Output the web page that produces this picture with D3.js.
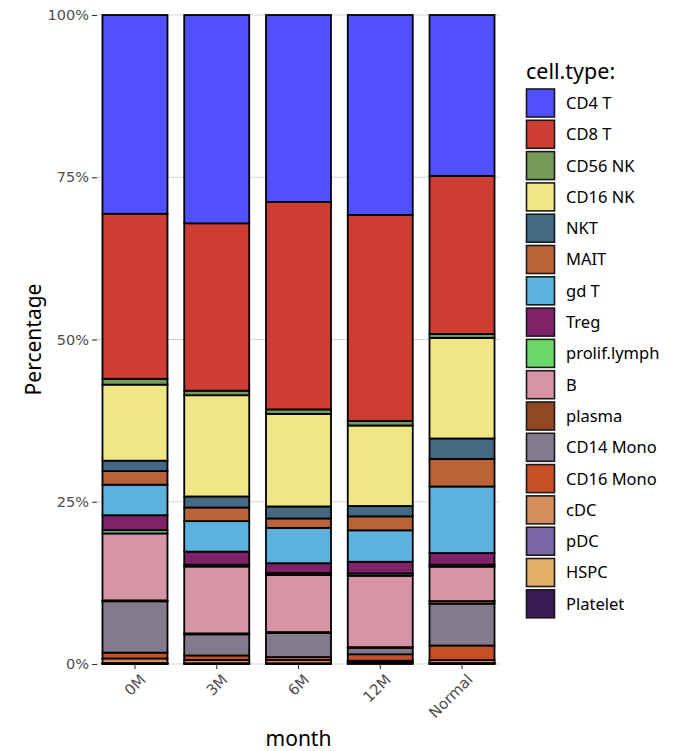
<!DOCTYPE html>
<html>
<head>
<meta charset="utf-8">
<script src="https://cdn.jsdelivr.net/npm/d3@7"></script>
<style>
  html, body { margin: 0; padding: 0; background: #ffffff; }
  svg { display: block; }
</style>
</head>
<body>
<svg id="chart" width="680" height="751"></svg>
<script>
// Sampling months along the x axis
const months = ["0M", "3M", "6M", "12M", "Normal"];

// Cell types, top of each stack first
const cellTypes = ["CD4 T", "CD8 T", "CD56 NK", "CD16 NK", "NKT", "MAIT", "gd T", "Treg",
  "prolif.lymph", "B", "plasma", "CD14 Mono", "CD16 Mono", "cDC", "pDC", "HSPC", "Platelet"];

// IGV-style palette, one colour per cell type
const typeColors = ["#5050FF", "#CE3D32", "#749B58", "#F0E685", "#466983", "#BA6338", "#5DB1DD",
  "#802268", "#6BD76B", "#D595A7", "#924822", "#837B8D", "#C75127", "#D58F5C", "#7A65A5",
  "#E4AF69", "#3B1B53"];

// Percent of cells per type, in cellTypes order
const pct0M     = [30.6, 25.4, 0.9, 11.7, 1.6, 2.1, 4.7, 2.3, 0.5, 10.3, 0.15, 7.9, 0.9, 0.7, 0.05, 0.05, 0.05];
const pct3M     = [32.1, 25.8, 0.7, 15.6, 1.7, 2.1, 4.7, 2.0, 0.3, 10.3, 0.15, 3.25, 0.7, 0.5, 0.04, 0.04, 0.04];
const pct6M     = [28.8, 31.95, 0.7, 14.25, 1.85, 1.45, 5.45, 1.5, 0.3, 8.8, 0.15, 3.7, 0.45, 0.5, 0.04, 0.04, 0.04];
const pct12M    = [30.8, 31.75, 0.7, 12.4, 1.6, 2.15, 4.85, 1.8, 0.35, 11.0, 0.1, 1.0, 1.0, 0.1, 0.05, 0.05, 0.3];
const pctNormal = [24.8, 24.35, 0.6, 15.5, 3.15, 4.25, 10.25, 1.8, 0.3, 5.3, 0.4, 6.45, 2.25, 0.45, 0.05, 0.05, 0.05];

// Y axis tick values and labels
const yTicks = [0, 0.25, 0.5, 0.75, 1];
const yTickLabels = ["0%", "25%", "50%", "75%", "100%"];

const monthValues = [pct0M, pct3M, pct6M, pct12M, pctNormal];

// Rows for the stack: each row is one month, normalised to proportions
const rows = months.map((m, i) => {
  const vals = monthValues[i];
  const total = d3.sum(vals);
  const row = { month: m };
  cellTypes.forEach((t, j) => { row[t] = vals[j] / total; });
  return row;
});

const svg = d3.select("#chart");

const panel = { left: 97, right: 500, top: 15, bottom: 664 };

const x = d3.scaleBand()
  .domain(months)
  .range([panel.left, panel.right])
  .paddingInner(0.205)
  .paddingOuter(0.067);

const y = d3.scaleLinear().domain([0, 1]).range([panel.bottom, panel.top]);

const color = d3.scaleOrdinal().domain(cellTypes).range(typeColors);

// Horizontal grid lines
svg.append("g")
  .selectAll("line")
  .data(yTicks)
  .join("line")
  .attr("x1", panel.left)
  .attr("x2", panel.right)
  .attr("y1", d => y(d))
  .attr("y2", d => y(d))
  .attr("stroke", "#D6D6D6")
  .attr("stroke-width", 1.2);

// Stack with Platelet at the bottom and CD4 T on top
const stack = d3.stack().keys(cellTypes.slice().reverse());
const series = stack(rows);

svg.append("g")
  .selectAll("g")
  .data(series)
  .join("g")
  .attr("fill", d => color(d.key))
  .selectAll("rect")
  .data(d => d)
  .join("rect")
  .attr("x", d => x(d.data.month))
  .attr("width", x.bandwidth())
  .attr("y", d => y(d[1]))
  .attr("height", d => Math.max(0, y(d[0]) - y(d[1])))
  .attr("stroke", "#000000")
  .attr("stroke-width", 1.8);

// Y axis
const yAxis = svg.append("g")
  .attr("transform", `translate(${panel.left},0)`)
  .call(d3.axisLeft(y).tickValues(yTicks).tickFormat((d, i) => yTickLabels[i]).tickSize(5).tickPadding(3));
yAxis.select(".domain").remove();
yAxis.selectAll(".tick line").attr("stroke", "#333333").attr("stroke-width", 1.1);
yAxis.selectAll(".tick text")
  .attr("fill", "#4D4D4D")
  .style("font-family", "'DejaVu Sans', sans-serif")
  .style("font-size", "14.5px");

// X axis with rotated labels
const xAxis = svg.append("g")
  .attr("transform", `translate(0,${panel.bottom})`)
  .call(d3.axisBottom(x).tickSize(5).tickPadding(2));
xAxis.select(".domain").remove();
xAxis.selectAll(".tick line").attr("stroke", "#333333").attr("stroke-width", 1.1);
xAxis.selectAll(".tick text")
  .attr("fill", "#4D4D4D")
  .style("font-family", "'DejaVu Sans', sans-serif")
  .style("font-size", "15px")
  .attr("text-anchor", "end")
  .attr("dy", "0.35em")
  .attr("transform", "translate(3,8) rotate(-45)");

// Axis titles
svg.append("text")
  .attr("x", (panel.left + panel.right) / 2)
  .attr("y", 746)
  .attr("text-anchor", "middle")
  .style("font-family", "'Noto Sans', sans-serif")
  .style("font-size", "21px")
  .attr("fill", "#000")
  .text("month");

svg.append("text")
  .attr("transform", `translate(41,${(panel.top + panel.bottom) / 2}) rotate(-90)`)
  .attr("text-anchor", "middle")
  .style("font-family", "'Noto Sans', sans-serif")
  .style("font-size", "21px")
  .attr("fill", "#000")
  .text("Percentage");

// Legend
const legend = svg.append("g").attr("transform", "translate(526,0)");
legend.append("text")
  .attr("x", 0)
  .attr("y", 79)
  .style("font-family", "'Noto Sans', sans-serif")
  .style("font-size", "21.5px")
  .attr("fill", "#000")
  .text("cell.type:");

const item = legend.selectAll("g.item")
  .data(cellTypes)
  .join("g")
  .attr("class", "item")
  .attr("transform", (d, i) => `translate(0,${89 + i * 31.3})`);

item.append("rect")
  .attr("x", 0.5)
  .attr("y", 0)
  .attr("width", 28)
  .attr("height", 28)
  .attr("fill", d => color(d))
  .attr("stroke", "#1a1a1a")
  .attr("stroke-width", 1.6);

item.append("text")
  .attr("x", 40)
  .attr("y", 14)
  .attr("dy", "0.36em")
  .style("font-family", "'Noto Sans', sans-serif")
  .style("font-size", "16.5px")
  .attr("fill", "#000")
  .text(d => d);
</script>
</body>
</html>
